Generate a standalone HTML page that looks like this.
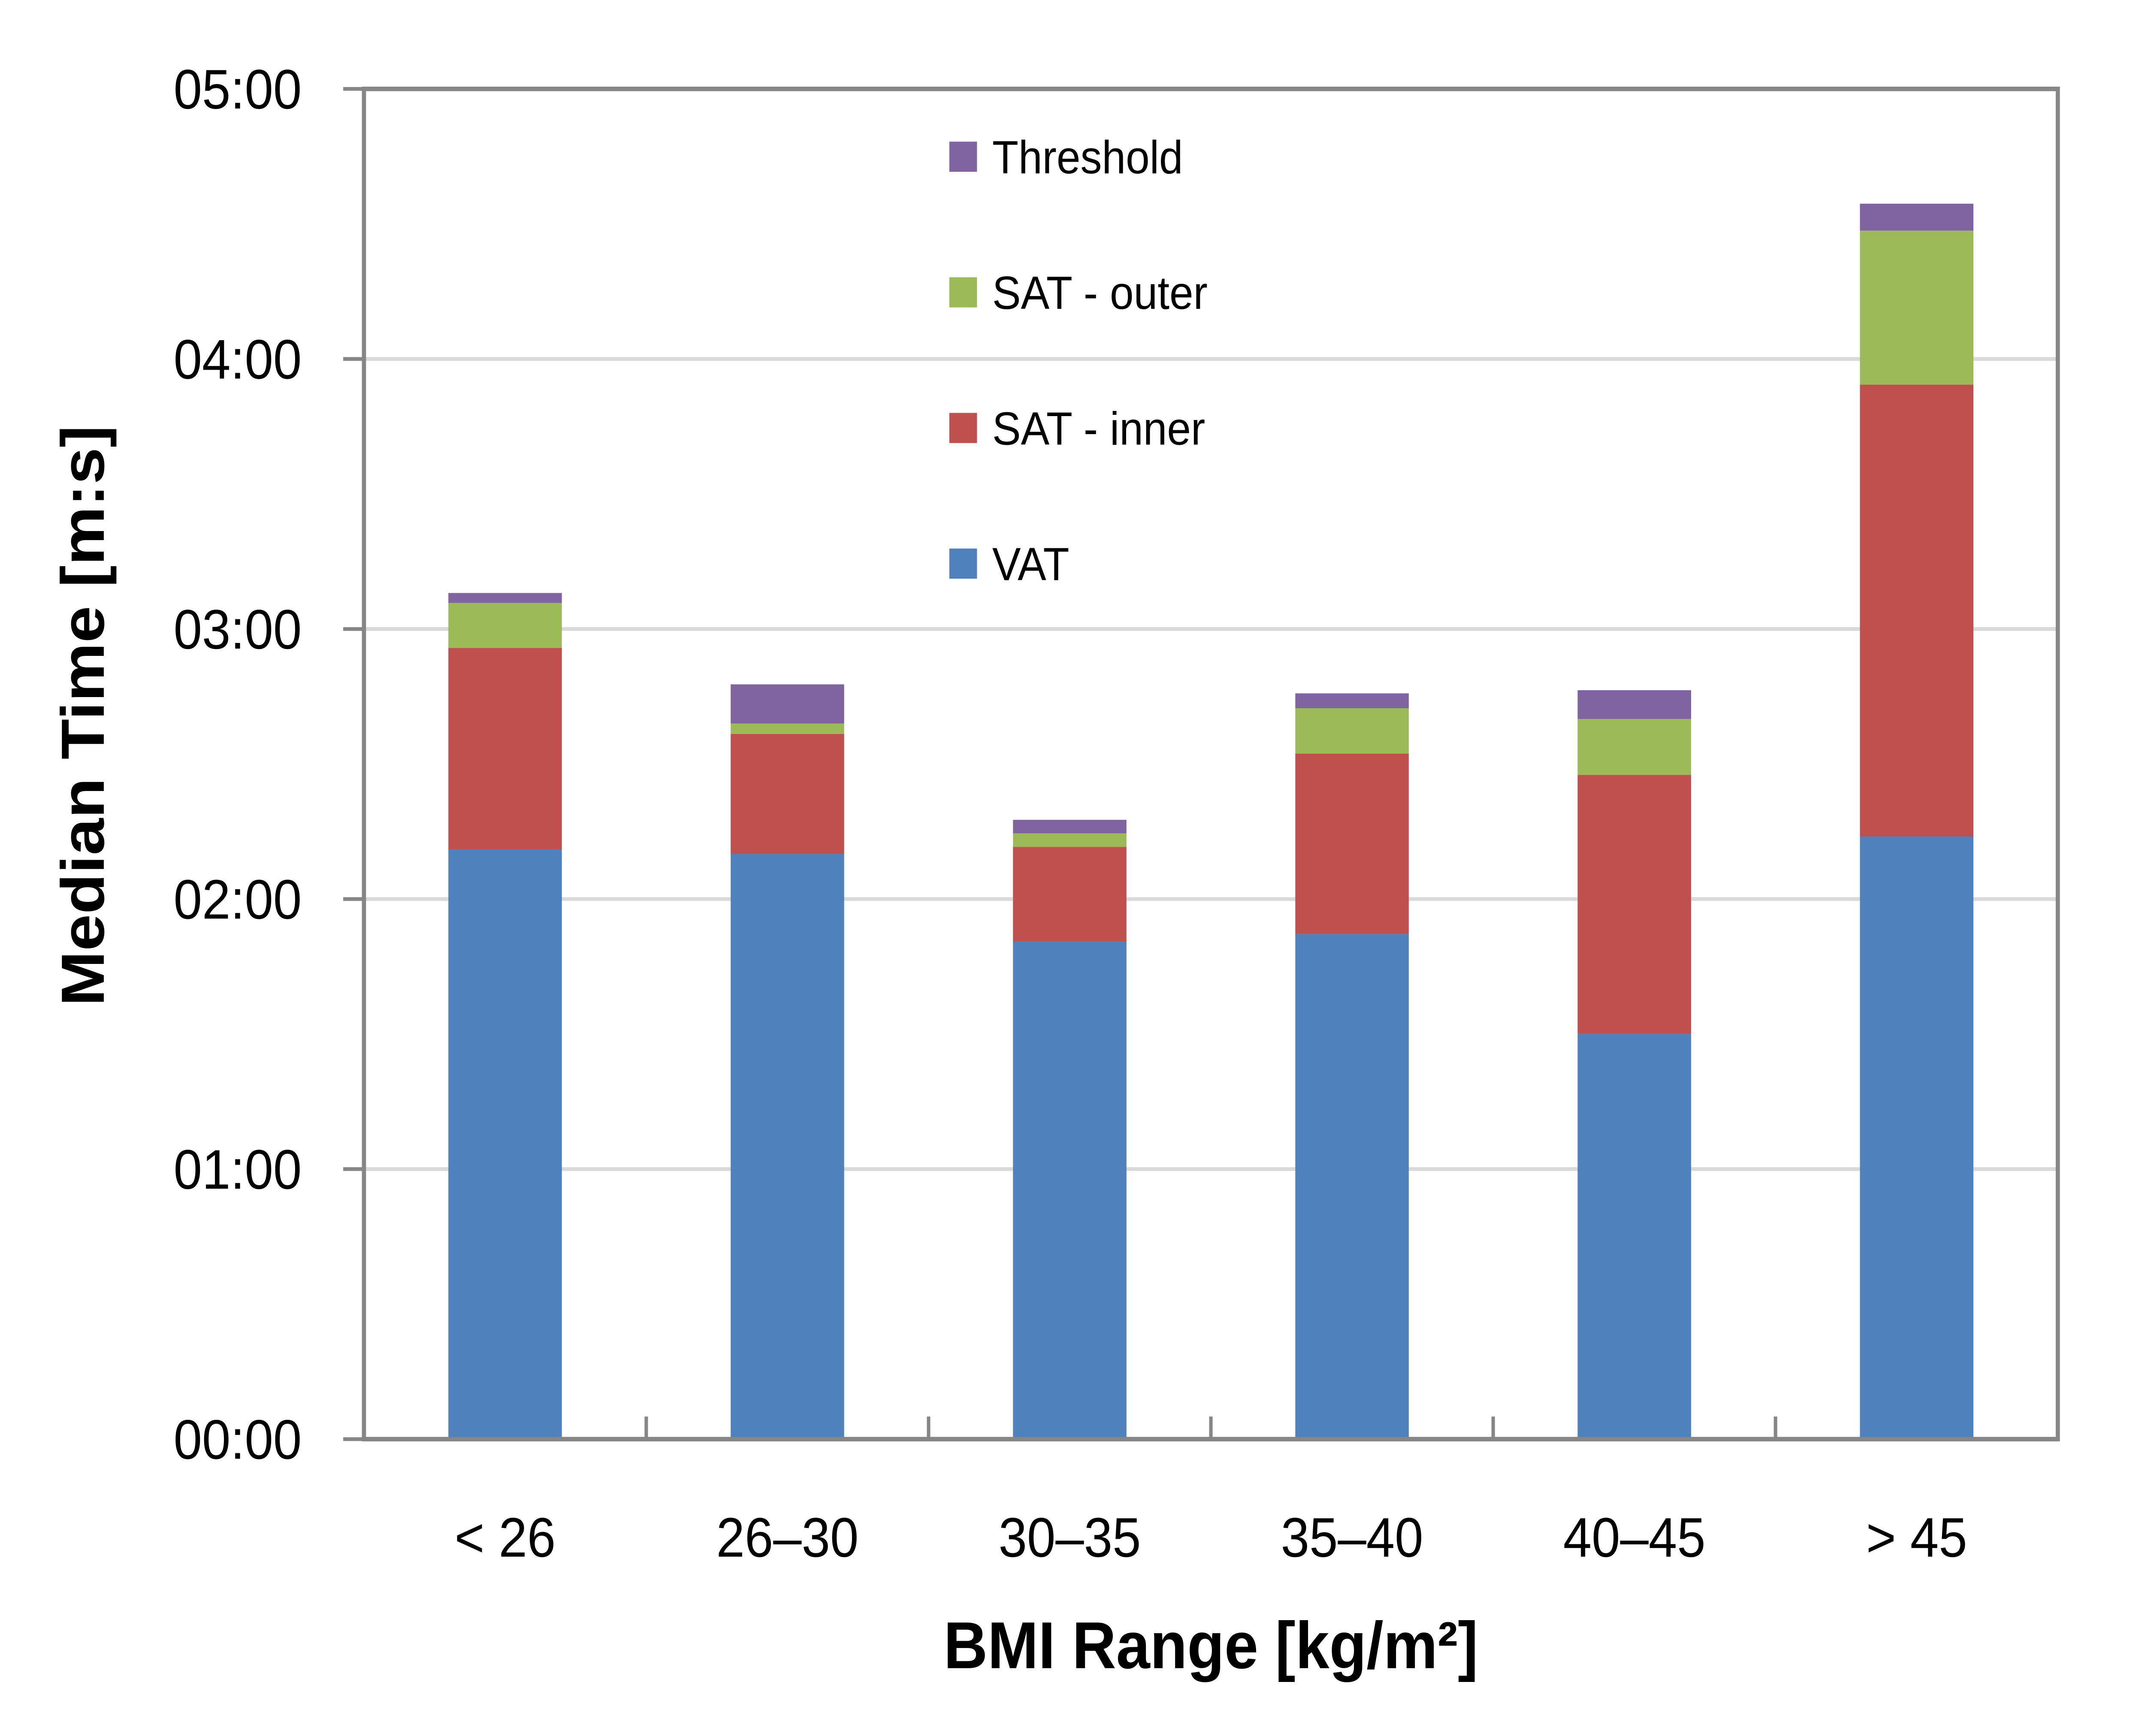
<!DOCTYPE html>
<html><head><meta charset="utf-8"><style>html,body{margin:0;padding:0;background:#fff;overflow:hidden;width:100%;height:100%}svg{display:block;width:100vw;height:100vh}</style></head>
<body>
<svg viewBox="0 0 1550 1152" preserveAspectRatio="none" xmlns="http://www.w3.org/2000/svg" font-family="Liberation Sans, sans-serif">
<g id="grid"></g>
<g id="bars"></g>
<g id="axes"></g>
<g id="legend"></g>
<text x="875" y="1107" text-anchor="middle" font-size="44" font-weight="bold">BMI Range [kg/m²]</text>
<text transform="translate(75,475) rotate(-90)" text-anchor="middle" font-size="44" font-weight="bold">Median Time [m:s]</text>
</svg>
<script>
const categories = ["< 26","26–30","30–35","35–40","40–45","> 45"];
const vat = [131,130,110.5,112.2,90,133.9];
const satInner = [44.8,26.7,21.1,40.1,57.6,100.4];
const satOuter = [10,2.3,3,10.1,12.4,34.2];
const threshold = [2.2,8.7,3,3.3,6.4,6];
const yTickValues = [0,60,120,180,240,300];
const yTickLabels = ["00:00","01:00","02:00","03:00","04:00","05:00"];
const seriesNames = ["Threshold","SAT - outer","SAT - inner","VAT"];

const NS="http://www.w3.org/2000/svg";
const L=263,R=1487,T=59,B=955,YMAX=300;
const y=v=>B-(v/YMAX)*(B-T);
const band=(R-L)/categories.length;
const xc=i=>L+band*(i+0.5);
const BW=82;
function mk(tag,attrs,parent){const e=document.createElementNS(NS,tag);for(const k in attrs)e.setAttribute(k,attrs[k]);parent.appendChild(e);return e;}
const grid=document.getElementById('grid'),bars=document.getElementById('bars'),axes=document.getElementById('axes'),legend=document.getElementById('legend');
yTickValues.forEach((v,i)=>{
  if(v>0&&v<YMAX){const g=mk('line',{x1:L,x2:R,y1:y(v),y2:y(v),stroke:'#d9d9d9','stroke-width':2.5},grid);
  
  }
  const t=mk('line',{x1:L-15,x2:L,y1:y(v),y2:y(v),stroke:'#868686','stroke-width':2.5},axes);
  
  
  const lb=mk('text',{x:218,y:y(v)+13,'text-anchor':'end','font-size':37},axes);lb.textContent=yTickLabels[i];
  
  
});
const series=[[vat,'#4f81bd','vat'],[satInner,'#c0504d','sat-inner'],[satOuter,'#9bbb59','sat-outer'],[threshold,'#8064a2','threshold']];
categories.forEach((c,i)=>{
  let base=0;
  series.forEach(([arr,col,nm])=>{
    const v=arr[i];
    const r=mk('rect',{x:xc(i)-BW/2,y:y(base+v),width:BW,height:y(base)-y(base+v),fill:col},bars);
    
    
    base+=v;
  });
  const lb=mk('text',{x:xc(i),y:1033,'text-anchor':'middle','font-size':37},axes);lb.textContent=c;
  
  
  if(i>0){const t=mk('line',{x1:L+band*i,x2:L+band*i,y1:B,y2:B-15,stroke:'#868686','stroke-width':2.5},axes);
  
  }
});
const frame=mk('rect',{x:L,y:T,width:R-L,height:B-T,fill:'none',stroke:'#868686','stroke-width':3},axes);


const legCols=['#8064a2','#9bbb59','#c0504d','#4f81bd'];
seriesNames.forEach((n,i)=>{
  const cy=104+i*90;
  const s=mk('rect',{x:686,y:cy-10,width:20,height:20,fill:legCols[i]},legend);
  
  
  const t=mk('text',{x:717,y:cy+11,'font-size':31},legend);t.textContent=n;
  
  
});
</script>
</body></html>
